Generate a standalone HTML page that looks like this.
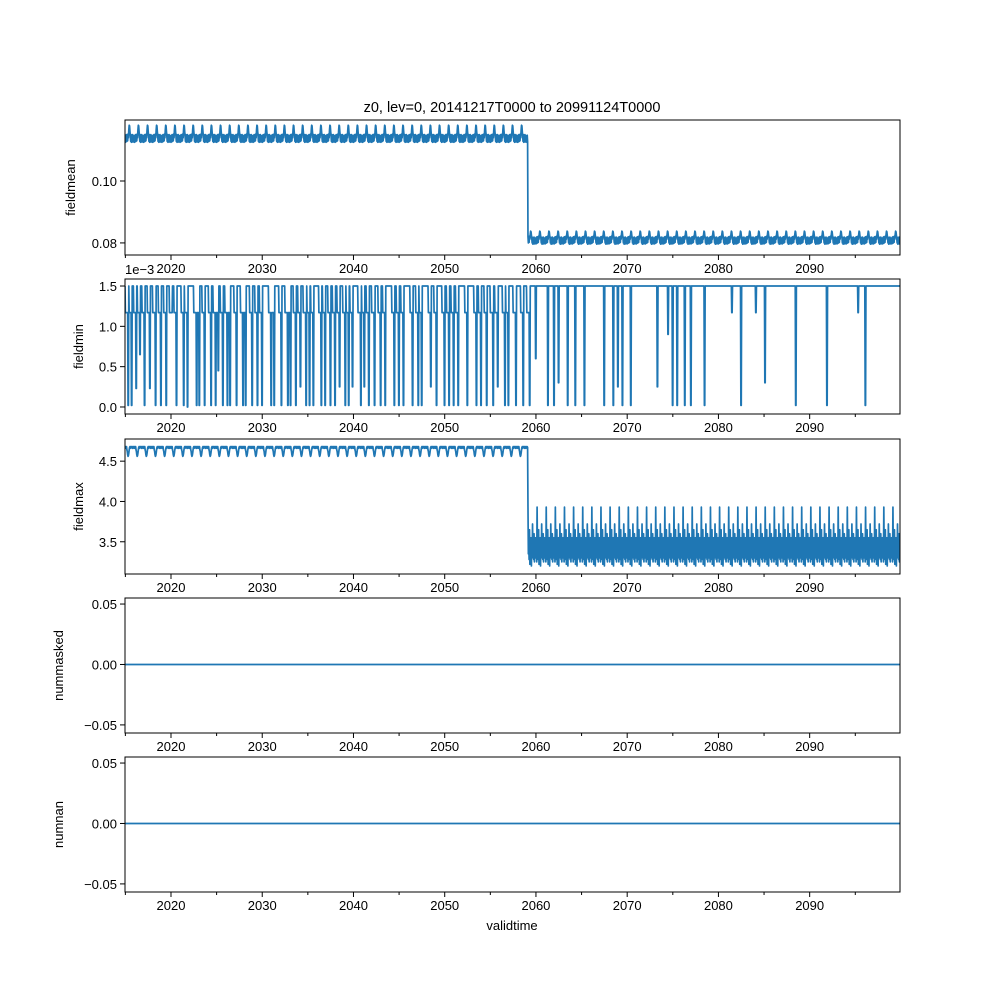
<!DOCTYPE html>
<html><head><meta charset="utf-8"><style>
body{margin:0;background:#fff}
svg{font-family:"Liberation Sans","DejaVu Sans",sans-serif}
</style></head><body>
<svg id="chart" width="1000" height="1000" viewBox="0 0 1000 1000">
<text x="512" y="112" font-size="14.5" text-anchor="middle">z0, lev=0, 20141217T0000 to 20991124T0000</text>
<text x="512" y="930" font-size="13" text-anchor="middle">validtime</text>
</svg>
<script>
// ---- data ----
const startYear = 2014.96;
const endYear = 2099.9;
const breakYear = 2059.1;
const xTicks = [2020,2030,2040,2050,2060,2070,2080,2090];
const xMinorTicks = [2015,2025,2035,2045,2055,2065,2075,2085,2095];
const meanSeason1 = [0.1145,0.1125,0.1148,0.1127,0.1150,0.1128,0.1148,0.1130,0.1152,0.1140,0.1165,0.1180,0.1178,0.1160,0.1145,0.1128,0.1150,0.1125,0.1148,0.1127,0.1150,0.1126,0.1147,0.1128];
const meanSeason2 = [0.0815,0.0797,0.0818,0.0799,0.0820,0.0800,0.0818,0.0802,0.0822,0.0812,0.0828,0.0838,0.0836,0.0825,0.0815,0.0800,0.0818,0.0796,0.0817,0.0798,0.0819,0.0797,0.0816,0.0799];
const maxSeason1 = [4.68,4.66,4.68,4.67,4.68,4.64,4.62,4.58,4.56,4.57,4.60,4.64,4.67,4.68,4.66,4.68,4.68,4.67,4.68,4.66,4.68,4.66,4.68,4.67];
const maxSeason2 = [3.55,3.30,3.45,3.25,3.93,3.35,3.50,3.28,3.65,3.22,3.45,3.32,3.55,3.20,3.48,3.30,3.72,3.35,3.50,3.28,3.60,3.25,3.45,3.33];
const minBase = 1.5;
const minDipYears = [2015.3,2015.7,2016.2,2016.6,2017.1,2017.7,2018.3,2018.9,2019.5,2020.1,2020.6,2021.4,2021.8,2022.8,2023.1,2023.7,2024.4,2024.9,2025.2,2025.7,2026.2,2026.5,2027.2,2027.9,2028.2,2028.9,2029.5,2030.0,2031.0,2031.3,2032.1,2032.8,2033.1,2033.7,2034.2,2034.8,2035.2,2035.6,2036.5,2036.9,2037.5,2038.0,2038.5,2039.1,2039.5,2039.9,2040.8,2041.2,2041.7,2042.3,2043.0,2043.5,2044.5,2045.0,2045.5,2046.5,2047.1,2047.5,2048.5,2049.1,2050.0,2050.5,2051.0,2051.5,2052.5,2053.5,2054.0,2054.6,2055.3,2055.8,2056.6,2057.0,2057.8,2058.6,2059.3,2060.0,2061.3,2062.0,2062.5,2063.5,2064.3,2065.3,2067.5,2068.5,2069.0,2069.5,2070.4,2073.3,2074.5,2075.0,2075.5,2076.3,2077.0,2078.5,2081.5,2082.5,2084.1,2085.1,2088.5,2091.9,2095.3,2096.1];
const minDipValues = [0.02,0.02,0.23,0.65,0.02,0.23,0.02,0.02,0.02,1.17,0.02,0.02,0.0,0.02,0.02,0.02,0.02,0.02,0.45,0.02,0.02,0.02,0.02,0.02,0.02,0.02,0.02,0.02,0.02,0.02,0.02,0.02,0.02,0.02,0.25,0.02,0.02,0.02,0.02,0.02,0.02,0.02,0.25,0.02,0.02,0.25,0.02,0.25,0.02,0.02,0.02,0.02,0.02,0.02,0.02,0.02,0.02,0.02,0.25,0.02,0.02,0.02,0.02,0.02,0.02,0.02,0.02,0.02,0.02,0.25,0.02,0.02,0.02,0.02,0.02,0.6,0.02,0.02,0.3,0.02,0.02,0.02,0.02,0.02,0.25,0.02,0.02,0.25,0.9,0.02,0.02,0.02,0.02,0.02,1.17,0.02,1.17,0.3,0.02,0.02,1.17,0.02];
const panelNames = ["fieldmean","fieldmin","fieldmax","nummasked","numnan"];
const panelTops = [120,279,439,598,757];
const yDomains = [[0.0761,0.1197],[-0.087,1.587],[3.1,4.775],[-0.0567,0.055],[-0.0567,0.055]];
const yTickVals = [[0.08,0.10],[0.0,0.5,1.0,1.5],[3.5,4.0,4.5],[-0.05,0,0.05],[-0.05,0,0.05]];
const yTickLabels = [["0.08","0.10"],["0.0","0.5","1.0","1.5"],["3.5","4.0","4.5"],["\u22120.05","0.00","0.05"],["\u22120.05","0.00","0.05"]];
const yLabelX = [75,83,83,63,63];

// ---- layout ----
const L=125,R=900,H=135;
const NS='http://www.w3.org/2000/svg';
const svg=document.getElementById('chart');
const xS=t=>L+(t-startYear)/(endYear-startYear)*(R-L);
function yS(i,v){const d=yDomains[i];return panelTops[i]+H-(v-d[0])/(d[1]-d[0])*H;}
function mk(tag,attrs,parent){const e=document.createElementNS(NS,tag);for(const k in attrs)e.setAttribute(k,attrs[k]);(parent||svg).appendChild(e);return e;}

// half-monthly series
const times=[];for(let t=startYear;t<=endYear+1e-6;t+=1/24)times.push(t);
const series=[[],[],[],[],[]];
times.forEach((t,k)=>{
  const m=k%24;
  const a=t<breakYear;
  series[0].push(a?meanSeason1[m]:meanSeason2[m]);
  series[2].push(a?maxSeason1[m]:maxSeason2[m]);
  series[3].push(0);series[4].push(0);
  let v=minBase;
  minDipYears.forEach((dy,j)=>{
    if(Math.abs(t-dy)<1/24) v=Math.min(v,minDipValues[j]);
    else if(dy<2060 && t<dy && dy-t<0.3) v=Math.min(v,1.17);
  });
  series[1].push(v);
});

panelNames.forEach((name,i)=>{
  const top=panelTops[i];
  const g=mk('g',{});
  
  
  const clipId='clip'+i;
  const cp=mk('clipPath',{id:clipId},g);mk('rect',{x:L,y:top,width:R-L,height:H},cp);
  let d='';
  times.forEach((t,k)=>{d+=(k?'L':'M')+xS(t).toFixed(2)+','+yS(i,series[i][k]).toFixed(2);});
  const p=mk('path',{d:d,fill:'none',stroke:'#1f77b4','stroke-width':1.7,'stroke-linejoin':'round','clip-path':'url(#'+clipId+')'},g);
  
  
  const fr=mk('rect',{x:L,y:top,width:R-L,height:H,fill:'none',stroke:'#000','stroke-width':1},g);
  
  
  xTicks.forEach(yr=>{
    const x=xS(yr);
    mk('line',{x1:x,x2:x,y1:top+H,y2:top+H+5,stroke:'#000'},g);
    const tx=mk('text',{x:x,y:top+H+18,'font-size':13,'text-anchor':'middle'},g);
    tx.textContent=yr;
    
    
  });
  xMinorTicks.forEach(yr=>{const x=xS(yr);mk('line',{x1:x,x2:x,y1:top+H,y2:top+H+3,stroke:'#000'},g);});
  yTickVals[i].forEach((v,j)=>{
    const y=yS(i,v);
    mk('line',{x1:L-5,x2:L,y1:y,y2:y,stroke:'#000'},g);
    const tx=mk('text',{x:L-8,y:y+5,'font-size':13,'text-anchor':'end'},g);
    tx.textContent=yTickLabels[i][j];
    
    
  });
  const yl=mk('text',{x:yLabelX[i],y:top+H/2,'font-size':13,'text-anchor':'middle',transform:'rotate(-90 '+yLabelX[i]+' '+(top+H/2)+')'},g);
  yl.textContent=name;
  
  
});
const off=mk('text',{x:125,y:274,'font-size':13});
off.textContent='1e\u22123';


</script>
</body></html>
